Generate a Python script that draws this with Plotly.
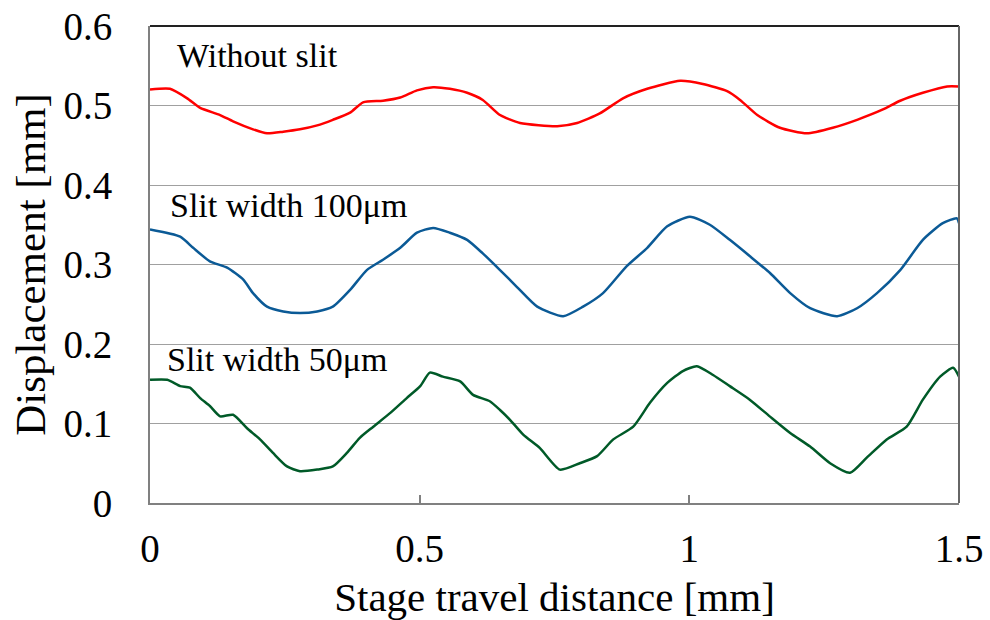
import plotly.graph_objects as go

# Stage travel distance [mm] and displacement [mm]
x_red = [0.000, 0.037, 0.069, 0.093, 0.130, 0.154, 0.191, 0.217, 0.247, 0.278, 0.310, 0.339,
         0.371, 0.395, 0.432, 0.464, 0.495, 0.525, 0.556, 0.588, 0.617, 0.649, 0.686, 0.755,
         0.792, 0.834, 0.877, 0.922, 0.983, 1.025, 1.070, 1.094, 1.126, 1.168, 1.218, 1.266,
         1.311, 1.359, 1.391, 1.433, 1.478, 1.500]
y_red = [0.520, 0.521, 0.509, 0.497, 0.488, 0.480, 0.470, 0.465, 0.467, 0.470, 0.475, 0.482,
         0.491, 0.504, 0.506, 0.510, 0.519, 0.523, 0.521, 0.516, 0.507, 0.488, 0.478, 0.474,
         0.478, 0.490, 0.509, 0.521, 0.531, 0.527, 0.518, 0.507, 0.488, 0.472, 0.465, 0.472,
         0.482, 0.495, 0.506, 0.516, 0.524, 0.524]

x_blue = [0.000, 0.056, 0.080, 0.111, 0.143, 0.173, 0.191, 0.217, 0.247, 0.278, 0.310, 0.339,
          0.371, 0.402, 0.432, 0.464, 0.495, 0.525, 0.556, 0.588, 0.617, 0.649, 0.680,
          0.718, 0.766, 0.803, 0.840, 0.884, 0.922, 0.959, 1.001, 1.038, 1.075, 1.113, 1.150,
          1.187, 1.224, 1.274, 1.311, 1.348, 1.391, 1.433, 1.470, 1.496, 1.500]
y_blue = [0.344, 0.335, 0.321, 0.304, 0.296, 0.281, 0.264, 0.247, 0.241, 0.239, 0.241, 0.247,
          0.268, 0.293, 0.306, 0.321, 0.340, 0.346, 0.340, 0.331, 0.314, 0.293, 0.272,
          0.247, 0.235, 0.247, 0.264, 0.298, 0.321, 0.348, 0.360, 0.350, 0.331, 0.310, 0.289,
          0.264, 0.245, 0.235, 0.245, 0.264, 0.293, 0.331, 0.352, 0.358, 0.352]

x_green = [0.000, 0.032, 0.056, 0.074, 0.093, 0.111, 0.130, 0.154, 0.180, 0.204, 0.228, 0.254,
           0.278, 0.310, 0.339, 0.365, 0.389, 0.414, 0.445, 0.476, 0.501, 0.519, 0.543, 0.575,
           0.599, 0.630, 0.649, 0.667, 0.692, 0.723, 0.760, 0.797, 0.829, 0.859, 0.896, 0.927,
           0.959, 0.988, 1.014, 1.044, 1.075, 1.112, 1.149, 1.187, 1.224, 1.261, 1.298, 1.329,
           1.366, 1.403, 1.433, 1.465, 1.489, 1.500]
y_green = [0.155, 0.155, 0.147, 0.145, 0.132, 0.122, 0.109, 0.111, 0.094, 0.080, 0.063, 0.046,
           0.040, 0.042, 0.046, 0.063, 0.082, 0.096, 0.113, 0.132, 0.147, 0.164, 0.159, 0.153,
           0.136, 0.128, 0.117, 0.105, 0.086, 0.069, 0.042, 0.050, 0.059, 0.080, 0.096, 0.126,
           0.151, 0.166, 0.172, 0.161, 0.147, 0.130, 0.109, 0.088, 0.071, 0.050, 0.038, 0.057,
           0.080, 0.096, 0.130, 0.159, 0.170, 0.159]

series_names = ["Without slit", "Slit width 100μm", "Slit width 50μm"]
series_colors = ["#FF0000", "#0B5A96", "#005A28"]
x_ticks = [0, 0.5, 1, 1.5]
x_tick_text = ["0", "0.5", "1", "1.5"]
y_ticks = [0, 0.1, 0.2, 0.3, 0.4, 0.5, 0.6]
y_tick_text = ["0", "0.1", "0.2", "0.3", "0.4", "0.5", "0.6"]

FONT = "Liberation Serif, Times New Roman, serif"

fig = go.Figure()
for xs, ys, name, col in zip([x_red, x_blue, x_green], [y_red, y_blue, y_green],
                             series_names, series_colors):
    fig.add_trace(go.Scatter(x=xs, y=ys, mode="lines", name=name,
                             line=dict(color=col, width=2.5, shape="spline", smoothing=0.6),
                             showlegend=False))

label_pos = [(0.046, 0.563), (0.033, 0.374), (0.028, 0.180)]
for name, (ax, ay) in zip(series_names, label_pos):
    fig.add_annotation(x=ax, y=ay, xref="x", yref="y", text=name, showarrow=False,
                       xanchor="left", yanchor="middle",
                       font=dict(family=FONT, size=34, color="black"))

# frame: top darker, right dark gray
fig.add_shape(type="line", xref="paper", yref="paper", x0=0, x1=1, y0=1, y1=1,
              line=dict(color="#222222", width=2))
fig.add_shape(type="line", xref="paper", yref="paper", x0=1, x1=1, y0=0, y1=1,
              line=dict(color="#666666", width=2))

fig.update_layout(
    width=990, height=620,
    margin=dict(l=150, r=31, t=26, b=117),
    paper_bgcolor="white", plot_bgcolor="white",
    font=dict(family=FONT, color="black"),
    xaxis=dict(range=[0, 1.5], tickvals=x_ticks, ticktext=x_tick_text,
               ticks="inside", ticklen=8, tickcolor="#808080", tickwidth=1.5,
               showline=True, linecolor="#808080", linewidth=2, mirror=False,
               showgrid=False, zeroline=False, ticklabelstandoff=10, automargin=False,
               tickfont=dict(family=FONT, size=39, color="black"),
               title=dict(text="Stage travel distance [mm]", standoff=24,
                          font=dict(family=FONT, size=41, color="black"))),
    yaxis=dict(range=[0, 0.6], tickvals=y_ticks, ticktext=y_tick_text,
               ticks="", showline=True, linecolor="#808080", linewidth=2,
               showgrid=True, gridcolor="#A0A0A0", gridwidth=1.2, zeroline=False,
               ticklabelstandoff=28, automargin=False,
               tickfont=dict(family=FONT, size=39, color="black"),
               title=dict(text="Displacement [mm]", standoff=4,
                          font=dict(family=FONT, size=43, color="black"))),
)

fig.write_html("out.html")
